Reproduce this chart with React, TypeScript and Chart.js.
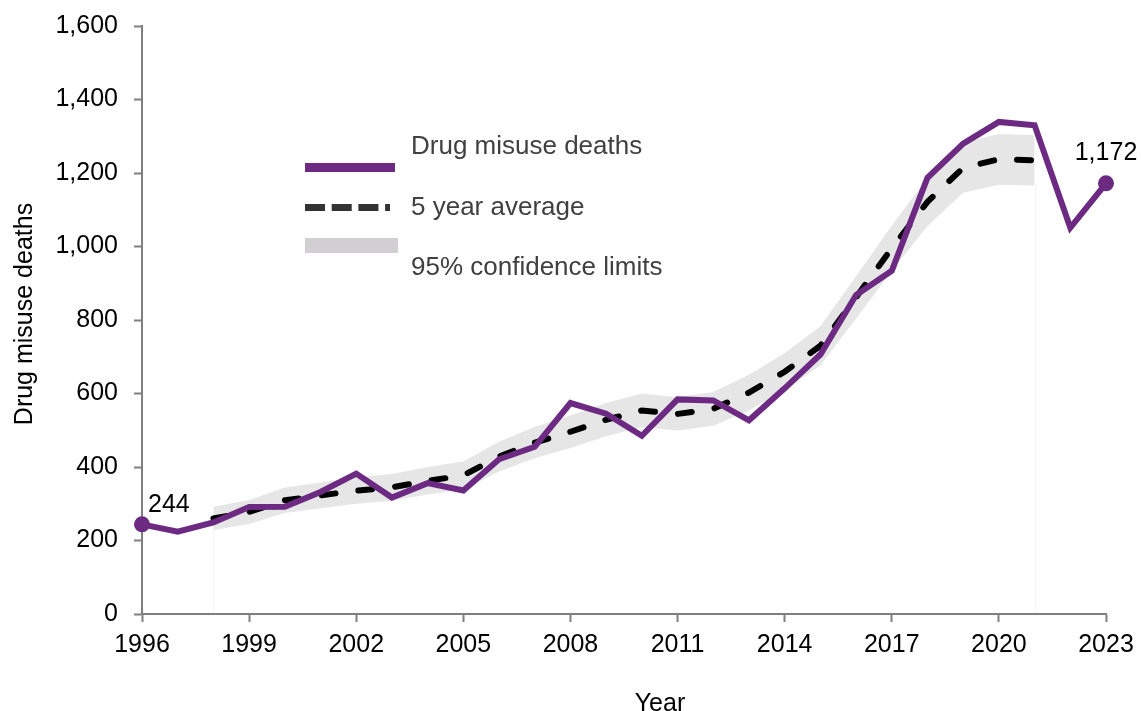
import React, { useEffect, useRef } from "react";
import { Chart, registerables } from "chart.js";

Chart.register(...registerables);

// Annual drug misuse deaths
const years = [
  1996, 1997, 1998, 1999, 2000, 2001, 2002, 2003, 2004, 2005, 2006, 2007, 2008, 2009,
  2010, 2011, 2012, 2013, 2014, 2015, 2016, 2017, 2018, 2019, 2020, 2021, 2022, 2023,
];
const deaths = [
  244, 224, 249, 291, 292, 332, 382, 317, 356, 336, 421, 455, 574, 545,
  485, 584, 581, 527, 614, 706, 868, 934, 1187, 1280, 1339, 1330, 1051, 1172,
];

// Centred five-year average with its 95% confidence limits
const averageYears = [
  1998, 1999, 2000, 2001, 2002, 2003, 2004, 2005, 2006, 2007, 2008, 2009,
  2010, 2011, 2012, 2013, 2014, 2015, 2016, 2017, 2018, 2019, 2020, 2021,
];
const fiveYearAverage = [
  260, 277.6, 309.2, 322.8, 335.8, 344.6, 362.4, 377, 428.4, 466.2, 496, 528.6,
  553.8, 544.4, 558.2, 602.4, 659.2, 729.8, 861.8, 995, 1121.6, 1214, 1237.4, 1234.4,
];
const lowerLimit = [
  228, 245, 275, 288, 300, 308, 325, 339, 388, 424, 452, 484,
  508, 499, 512, 554, 609, 677, 804, 933, 1056, 1146, 1168, 1166,
];
const upperLimit = [
  292, 310, 344, 358, 372, 381, 400, 415, 469, 509, 540, 574,
  600, 590, 604, 651, 710, 783, 919, 1057, 1187, 1282, 1306, 1303,
];

// Axis ticks
const xTicks = [1996, 1999, 2002, 2005, 2008, 2011, 2014, 2017, 2020, 2023];
const yTicks = [0, 200, 400, 600, 800, 1000, 1200, 1400, 1600];

const legendLabels = ["Drug misuse deaths", "5 year average", "95% confidence limits"];

const PURPLE = "#6C2A83";
const BAND = "#E6E6E6";
const AXIS = "#7F7F7F";
const FONT = "'Liberation Sans', Arial, Helvetica, sans-serif";

const fmt = (v: number) => v.toLocaleString("en-US");

const overlayPlugin = {
  id: "overlay",
  beforeDatasetsDraw(chart: any) {
    const { ctx, scales } = chart;
    const x = scales.x;
    const y = scales.y;
    // faint edges where the confidence band starts and ends
    ctx.save();
    ctx.strokeStyle = "#F4F4F4";
    ctx.lineWidth = 1;
    [0, averageYears.length - 1].forEach((i) => {
      const px = Math.round(x.getPixelForValue(averageYears[i])) + 0.5;
      ctx.beginPath();
      ctx.moveTo(px, y.getPixelForValue(lowerLimit[i]));
      ctx.lineTo(px, y.getPixelForValue(0) - 1);
      ctx.stroke();
    });
    ctx.restore();
  },
  afterDraw(chart: any) {
    const { ctx, scales } = chart;
    const x = scales.x;
    const y = scales.y;
    ctx.save();

    // end-point value labels
    ctx.fillStyle = "#000";
    ctx.font = `25px ${FONT}`;
    ctx.textBaseline = "middle";
    const first = 0;
    const last = deaths.length - 1;
    ctx.textAlign = "left";
    ctx.fillText(
      fmt(deaths[first]),
      x.getPixelForValue(years[first]) + 6,
      y.getPixelForValue(deaths[first]) - 19
    );
    ctx.textAlign = "center";
    ctx.fillText(
      fmt(deaths[last]),
      x.getPixelForValue(years[last]),
      y.getPixelForValue(deaths[last]) - 30
    );

    // axis titles
    ctx.textAlign = "center";
    ctx.textBaseline = "alphabetic";
    ctx.fillText("Year", 660, 711);
    ctx.save();
    ctx.translate(32, 314);
    ctx.rotate(-Math.PI / 2);
    ctx.fillText("Drug misuse deaths", 0, 0);
    ctx.restore();

    // legend
    const lx = 305;
    ctx.fillStyle = PURPLE;
    ctx.fillRect(lx, 163, 90, 9);

    ctx.strokeStyle = "#333333";
    ctx.lineWidth = 7;
    ctx.setLineDash([20, 6.7]);
    ctx.beginPath();
    ctx.moveTo(lx, 207.5);
    ctx.lineTo(lx + 85, 207.5);
    ctx.stroke();
    ctx.setLineDash([]);

    ctx.fillStyle = "#D1CFD1";
    ctx.fillRect(lx, 238, 93, 15);

    ctx.fillStyle = "#404040";
    ctx.font = `26px ${FONT}`;
    ctx.textAlign = "left";
    ctx.textBaseline = "middle";
    ctx.fillText(legendLabels[0], 411, 147);
    ctx.fillText(legendLabels[1], 411, 208);
    ctx.fillText(legendLabels[2], 411, 268);

    ctx.restore();
  },
};

export default function App() {
  const canvasRef = useRef<HTMLCanvasElement | null>(null);

  useEffect(() => {
    const canvas = canvasRef.current;
    if (!canvas) return;

    const deathPoints = years.map((yr, i) => ({ x: yr, y: deaths[i] }));
    const avgPoints = averageYears.map((yr, i) => ({ x: yr, y: fiveYearAverage[i] }));
    const lowPoints = averageYears.map((yr, i) => ({ x: yr, y: lowerLimit[i] }));
    const highPoints = averageYears.map((yr, i) => ({ x: yr, y: upperLimit[i] }));

    const chart = new Chart(canvas, {
      type: "line",
      data: {
        datasets: [
          {
            label: "lower",
            data: lowPoints,
            borderWidth: 0,
            borderColor: "transparent",
            pointRadius: 0,
            fill: false,
            order: 3,
          },
          {
            label: legendLabels[2],
            data: highPoints,
            borderWidth: 0,
            borderColor: "transparent",
            backgroundColor: BAND,
            pointRadius: 0,
            fill: "-1",
            order: 2,
          },
          {
            label: legendLabels[1],
            data: avgPoints,
            borderColor: "#000",
            borderWidth: 6,
            borderDash: [14, 23],
            borderCapStyle: "round",
            pointRadius: 0,
            fill: false,
            order: 1,
          },
          {
            label: legendLabels[0],
            data: deathPoints,
            borderColor: PURPLE,
            backgroundColor: PURPLE,
            borderWidth: 6,
            pointRadius: (c: any) =>
              c.dataIndex === 0 || c.dataIndex === deaths.length - 1 ? 8 : 0,
            pointBorderWidth: 0,
            fill: false,
            clip: false,
            order: 0,
          },
        ],
      },
      options: {
        responsive: false,
        animation: false,
        devicePixelRatio: 1,
        layout: { padding: { left: 0, top: 26, right: 35, bottom: 0 } },
        plugins: {
          legend: { display: false },
          tooltip: { enabled: false },
        },
        scales: {
          x: {
            type: "linear",
            min: years[0],
            max: years[years.length - 1],
            afterBuildTicks: (s: any) => {
              s.ticks = xTicks.map((v) => ({ value: v }));
            },
            afterFit: (s: any) => {
              s.height = 97;
              s.paddingLeft = 0;
              s.paddingRight = 0;
            },
            ticks: {
              autoSkip: false,
              maxRotation: 0,
              color: "#000",
              padding: 8,
              font: { family: FONT, size: 25 },
              callback: (v: any) => String(v),
            },
            grid: {
              drawOnChartArea: false,
              drawTicks: true,
              tickLength: 8,
              tickColor: AXIS,
              tickWidth: 2,
            },
            border: { color: AXIS, width: 2 },
          },
          y: {
            type: "linear",
            min: yTicks[0],
            max: yTicks[yTicks.length - 1],
            afterBuildTicks: (s: any) => {
              s.ticks = yTicks.map((v) => ({ value: v }));
            },
            afterFit: (s: any) => {
              s.width = 142;
              s.paddingTop = 0;
              s.paddingBottom = 0;
            },
            ticks: {
              color: "#000",
              padding: 16,
              font: { family: FONT, size: 25 },
              callback: (v: any) => fmt(Number(v)),
            },
            grid: {
              drawOnChartArea: false,
              drawTicks: true,
              tickLength: 8,
              tickColor: AXIS,
              tickWidth: 2,
            },
            border: { color: AXIS, width: 2 },
          },
        },
      },
      plugins: [overlayPlugin],
    } as any);

    return () => chart.destroy();
  }, []);

  return (
    <div style={{ position: "fixed", left: 0, top: 0, width: 1141, height: 711, background: "#fff" }}>
      <canvas ref={canvasRef} width={1141} height={711} style={{ display: "block" }} />
    </div>
  );
}
